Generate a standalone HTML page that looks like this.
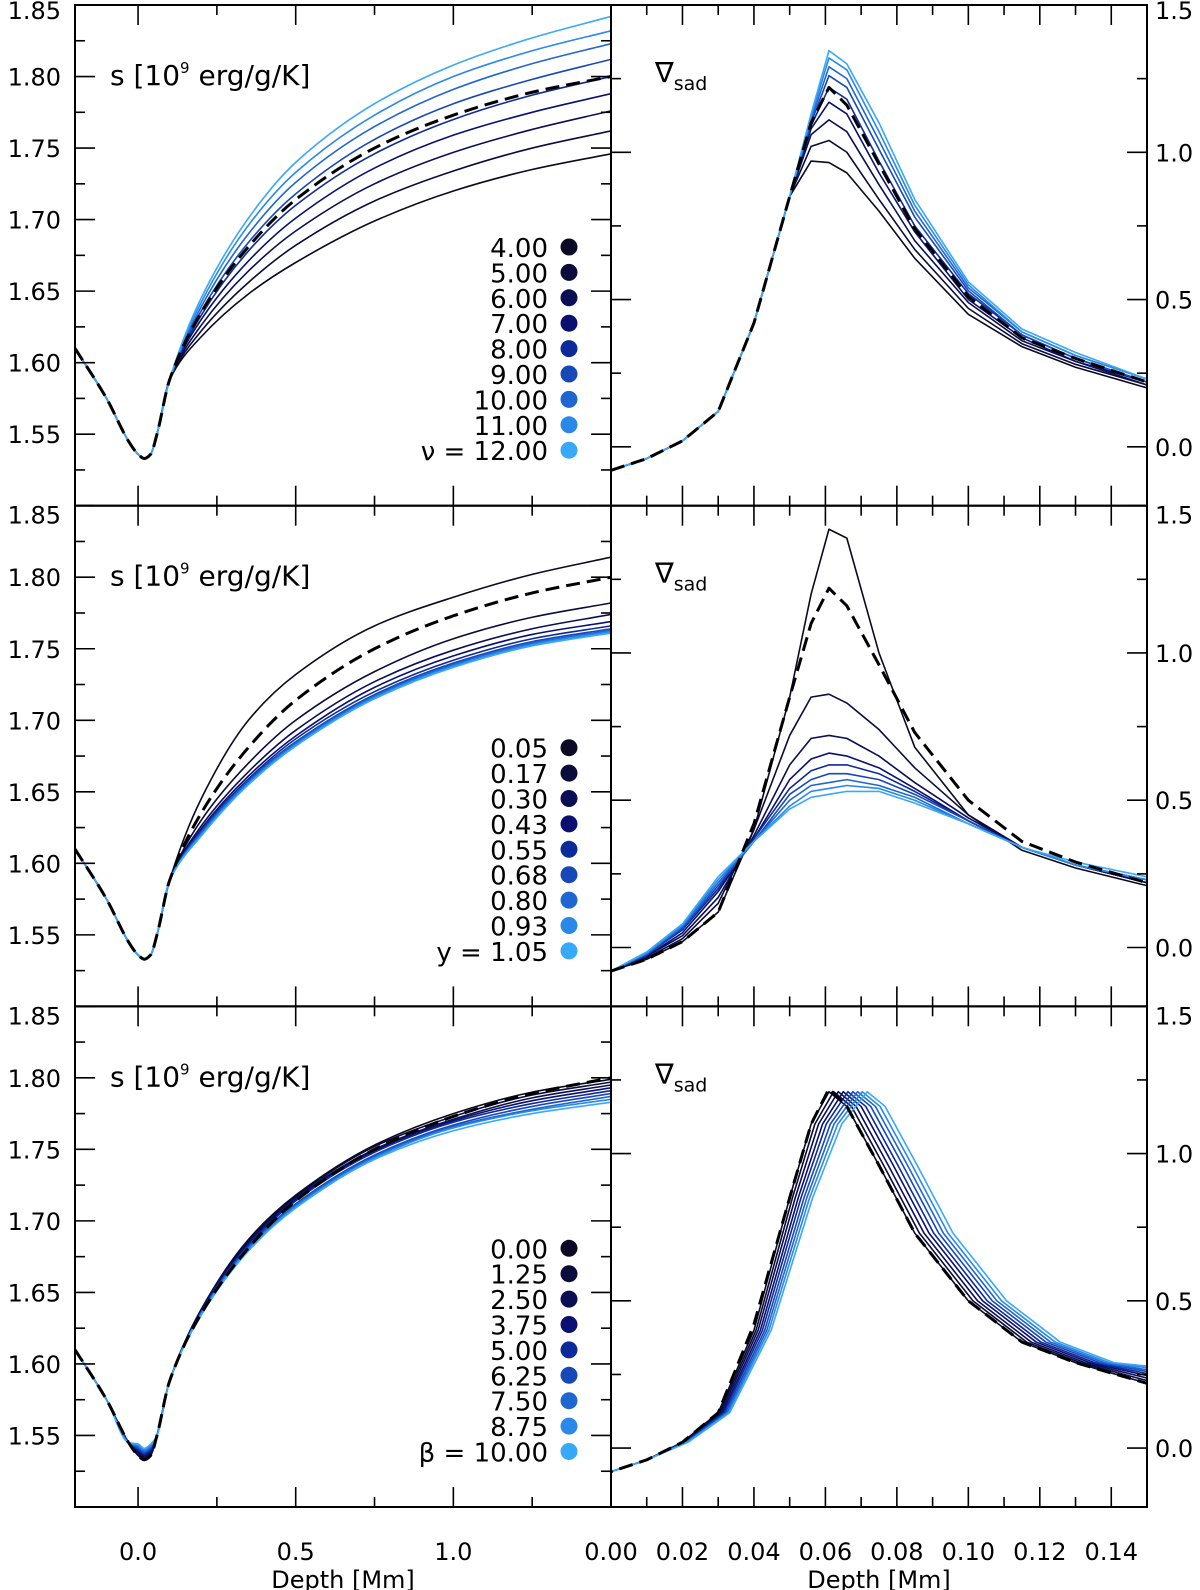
<!DOCTYPE html>
<html><head><meta charset="utf-8">
<style>
body{margin:0;background:#fff;}
svg{display:block;font-family:"DejaVu Sans","Liberation Sans",sans-serif;}
</style></head>
<body>
<svg id="fig" width="1200" height="1590" viewBox="0 0 1200 1590" xmlns="http://www.w3.org/2000/svg"></svg>
<script>
// ---------- data ----------
const colors = ['#0a0a24','#0b0b3c','#0a0f55','#0a1070','#0d2a9a','#1648b8','#1e66d0','#2a88e8','#38a8f8'];
const sX = [-0.2,-0.1,-0.03,0.0,0.02,0.04,0.06,0.1,0.2,0.35,0.5,0.75,1.0,1.25,1.5];
const sPrefix = [1.61,1.575,1.545,1.536,1.533,1.536,1.55,1.588];
const nuLabels = ['4.00','5.00','6.00','7.00','8.00','9.00','10.00','11.00','12.00'];
const sNu4  = [1.618,1.648,1.670,1.699,1.720,1.735,1.746];
const sNu5  = [1.622,1.656,1.682,1.713,1.734,1.750,1.762];
const sNu6  = [1.626,1.664,1.692,1.725,1.747,1.763,1.776];
const sNu7  = [1.630,1.671,1.701,1.736,1.759,1.775,1.788];
const sNu8  = [1.633,1.678,1.710,1.746,1.770,1.787,1.800];
const sNu9  = [1.636,1.684,1.718,1.756,1.781,1.798,1.812];
const sNu10 = [1.639,1.690,1.726,1.765,1.791,1.809,1.823];
const sNu11 = [1.642,1.696,1.733,1.773,1.800,1.818,1.832];
const sNu12 = [1.645,1.701,1.740,1.781,1.808,1.827,1.842];
const sRef  = [1.635,1.681,1.714,1.750,1.773,1.789,1.800];
const yLabels = ['0.05','0.17','0.30','0.43','0.55','0.68','0.80','0.93','1.05'];
const sY05 = [1.645,1.700,1.732,1.766,1.786,1.802,1.814];
const sY17 = [1.630,1.670,1.700,1.734,1.757,1.772,1.782];
const sY30 = [1.626,1.664,1.693,1.727,1.749,1.764,1.774];
const sY43 = [1.624,1.661,1.689,1.723,1.745,1.760,1.769];
const sY55 = [1.623,1.659,1.687,1.720,1.742,1.757,1.766];
const sY68 = [1.622,1.658,1.685,1.718,1.740,1.755,1.764];
const sY80 = [1.621,1.657,1.684,1.717,1.739,1.754,1.763];
const sY93 = [1.620,1.656,1.683,1.716,1.738,1.753,1.762];
const sY105= [1.619,1.655,1.682,1.715,1.737,1.752,1.761];
const betaLabels = ['0.00','1.25','2.50','3.75','5.00','6.25','7.50','8.75','10.00'];
const sB0  = [1.638,1.687,1.718,1.753,1.775,1.790,1.799];
const sB1  = [1.638,1.686,1.717,1.752,1.773,1.788,1.797];
const sB2  = [1.637,1.685,1.716,1.750,1.771,1.786,1.795];
const sB3  = [1.637,1.684,1.715,1.749,1.770,1.784,1.793];
const sB4  = [1.636,1.683,1.714,1.748,1.769,1.782,1.791];
const sB5  = [1.636,1.682,1.712,1.746,1.767,1.780,1.789];
const sB6  = [1.635,1.681,1.711,1.745,1.766,1.778,1.787];
const sB7  = [1.635,1.680,1.710,1.744,1.765,1.777,1.785];
const sB8  = [1.634,1.679,1.709,1.743,1.763,1.775,1.783];
const betaDip = [1.533,1.534,1.535,1.536,1.537,1.538,1.539,1.540,1.541];

const gX = [0,0.01,0.02,0.03,0.04,0.05,0.056,0.061,0.066,0.075,0.085,0.1,0.115,0.13,0.15];
const gPrefix = [-0.08,-0.04,0.02,0.12,0.42,0.85];
const gNu4  = [0.97,0.965,0.93,0.80,0.64,0.45,0.34,0.27,0.20];
const gNu5  = [1.02,1.04,1.00,0.84,0.67,0.47,0.35,0.28,0.21];
const gNu6  = [1.06,1.11,1.07,0.89,0.70,0.49,0.36,0.29,0.21];
const gNu7  = [1.08,1.17,1.13,0.93,0.73,0.50,0.37,0.29,0.22];
const gNu8  = [1.09,1.22,1.18,0.97,0.75,0.52,0.38,0.30,0.22];
const gNu9  = [1.10,1.26,1.22,1.01,0.78,0.53,0.38,0.30,0.22];
const gNu10 = [1.11,1.29,1.25,1.04,0.80,0.54,0.39,0.31,0.23];
const gNu11 = [1.12,1.32,1.28,1.07,0.82,0.55,0.39,0.31,0.23];
const gNu12 = [1.13,1.345,1.30,1.10,0.84,0.56,0.40,0.32,0.23];
const gRef  = [1.10,1.22,1.16,0.96,0.74,0.51,0.37,0.30,0.22];
const gY05 = [-0.08,-0.04,0.02,0.12,0.40,0.85,1.20,1.42,1.39,1.00,0.68,0.45,0.33,0.27,0.21];
const gY17 = [-0.08,-0.035,0.03,0.15,0.40,0.72,0.85,0.86,0.83,0.74,0.61,0.45,0.34,0.28,0.22];
const gY30 = [-0.08,-0.03,0.04,0.17,0.38,0.62,0.71,0.72,0.71,0.65,0.56,0.44,0.34,0.28,0.22];
const gY43 = [-0.08,-0.03,0.05,0.19,0.37,0.57,0.64,0.66,0.65,0.61,0.54,0.43,0.34,0.28,0.22];
const gY55 = [-0.08,-0.025,0.06,0.20,0.37,0.54,0.60,0.62,0.62,0.59,0.53,0.43,0.34,0.28,0.23];
const gY68 = [-0.08,-0.025,0.065,0.21,0.36,0.52,0.57,0.59,0.59,0.57,0.52,0.43,0.34,0.28,0.23];
const gY80 = [-0.08,-0.02,0.07,0.22,0.36,0.50,0.55,0.56,0.57,0.55,0.51,0.42,0.34,0.28,0.23];
const gY93 = [-0.08,-0.02,0.075,0.23,0.36,0.48,0.53,0.54,0.55,0.54,0.50,0.42,0.34,0.28,0.23];
const gY105= [-0.08,-0.015,0.08,0.24,0.36,0.47,0.51,0.52,0.53,0.53,0.49,0.42,0.34,0.29,0.24];
const gYRef= [-0.08,-0.04,0.02,0.12,0.42,0.85,1.10,1.22,1.16,0.96,0.73,0.50,0.36,0.29,0.22];
const gBetaShape = [-0.08,-0.04,0.02,0.12,0.40,0.85,1.10,1.21,1.16,0.96,0.73,0.50,0.36,0.29,0.22];
const gBetaShift = [0,0.0013,0.0026,0.004,0.0053,0.0067,0.008,0.0093,0.0107];
const gBetaTail  = [0.22,0.225,0.23,0.235,0.24,0.245,0.25,0.258,0.265];

const sTicksMajor = [1.55,1.60,1.65,1.70,1.75,1.80,1.85];
const gTicksMajor = [0.0,0.5,1.0,1.5];
const sXTicks = ['0.0','0.5','1.0'];
const gXTicks = ['0.00','0.02','0.04','0.06','0.08','0.10','0.12','0.14'];

// ---------- layout ----------
const NS='http://www.w3.org/2000/svg';
const svg=document.getElementById('fig');
const L0=75,L1=611,R1=1147;
const rowsTop=[5,505.7,1006.3], rowH=500.7;
function mk(tag,attrs,parent){const e=document.createElementNS(NS,tag);for(const k in attrs)e.setAttribute(k,attrs[k]);(parent||svg).appendChild(e);return e;}
function sxL(v){return L0+(v+0.2)/1.7*(L1-L0);}
function sxR(v){return L1+v/0.15*(R1-L1);}
function syL(r,v){return rowsTop[r]+(1.85-v)/0.35*rowH;}
function syR(r,v){return rowsTop[r]+(1.5-v)/1.7*rowH;}

function monoPath(xs,ys){
  const n=xs.length;const d=[],m=[];
  for(let i=0;i<n-1;i++)d.push((ys[i+1]-ys[i])/(xs[i+1]-xs[i]));
  m[0]=d[0];m[n-1]=d[n-2];
  for(let i=1;i<n-1;i++){ if(d[i-1]*d[i]<=0)m[i]=0; else m[i]=2/(1/d[i-1]+1/d[i]); }
  let p='M'+xs[0].toFixed(2)+','+ys[0].toFixed(2);
  for(let i=0;i<n-1;i++){const h=xs[i+1]-xs[i];
    p+=' C'+(xs[i]+h/3).toFixed(2)+','+(ys[i]+m[i]*h/3).toFixed(2)+' '+(xs[i+1]-h/3).toFixed(2)+','+(ys[i+1]-m[i+1]*h/3).toFixed(2)+' '+xs[i+1].toFixed(2)+','+ys[i+1].toFixed(2);}
  return p;
}
function linPath(xs,ys){return xs.map((x,i)=>(i?'L':'M')+x.toFixed(2)+','+ys[i].toFixed(2)).join(' ');}

const defs=mk('defs',{});
for(let r=0;r<3;r++){
  const c1=mk('clipPath',{id:'cl'+r},defs);mk('rect',{x:L0,y:rowsTop[r],width:L1-L0,height:rowH},c1);
  const c2=mk('clipPath',{id:'cr'+r},defs);mk('rect',{x:L1,y:rowsTop[r],width:R1-L1,height:rowH},c2);
}

function drawS(r,series,name,col,dashed,grp){
  const xs=sX.map(sxL), ys=series.map(v=>syL(r,v));
  const p=mk('path',{d:monoPath(xs,ys),fill:'none',stroke:col,'stroke-width':dashed?3:1.6,'stroke-dasharray':dashed?'14 7':'none'},grp);
  
  
}
function drawG(r,xv,series,name,col,dashed,grp){
  const xs=xv.map(sxR), ys=series.map(v=>syR(r,v));
  const p=mk('path',{d:linPath(xs,ys),fill:'none',stroke:col,'stroke-width':dashed?3:1.6,'stroke-dasharray':dashed?'14 7':'none','stroke-linejoin':'round'},grp);
  
  
}

const sNu=[sNu4,sNu5,sNu6,sNu7,sNu8,sNu9,sNu10,sNu11,sNu12];
const sY=[sY05,sY17,sY30,sY43,sY55,sY68,sY80,sY93,sY105];
const sB=[sB0,sB1,sB2,sB3,sB4,sB5,sB6,sB7,sB8];
const gNu=[gNu4,gNu5,gNu6,gNu7,gNu8,gNu9,gNu10,gNu11,gNu12];
const gY=[gY05,gY17,gY30,gY43,gY55,gY68,gY80,gY93,gY105];

// row 0
let g=mk('g',{'clip-path':'url(#cl0)'});
sNu.forEach((s,i)=>drawS(0,sPrefix.concat(s),'entropy-nu-'+nuLabels[i],colors[i],false,g));
drawS(0,sPrefix.concat(sRef),'entropy-reference',"#000",true,g);
g=mk('g',{'clip-path':'url(#cr0)'});
gNu.forEach((s,i)=>drawG(0,gX,gPrefix.concat(s),'gradient-nu-'+nuLabels[i],colors[i],false,g));
drawG(0,gX,gPrefix.concat(gRef),'gradient-reference',"#000",true,g);
// row 1
g=mk('g',{'clip-path':'url(#cl1)'});
sY.forEach((s,i)=>drawS(1,sPrefix.concat(s),'entropy-y-'+yLabels[i],colors[i],false,g));
drawS(1,sPrefix.concat(sRef),'entropy-reference',"#000",true,g);
g=mk('g',{'clip-path':'url(#cr1)'});
gY.forEach((s,i)=>drawG(1,gX,s,'gradient-y-'+yLabels[i],colors[i],false,g));
drawG(1,gX,gYRef,'gradient-reference',"#000",true,g);
// row 2
g=mk('g',{'clip-path':'url(#cl2)'});
sB.forEach((s,i)=>{const pre=sPrefix.slice();pre[4]=betaDip[i];pre[3]=betaDip[i]+0.003;pre[5]=betaDip[i]+0.003;drawS(2,pre.concat(s),'entropy-beta-'+betaLabels[i],colors[i],false,g);});
drawS(2,sPrefix.concat(sRef),'entropy-reference',"#000",true,g);
g=mk('g',{'clip-path':'url(#cr2)'});
const shiftWeight=[0,0,0.15,0.3,0.45,0.6,0.8,1,1,1,1,1,1,1,1];
gBetaShift.forEach((sh,i)=>{
  const xv=[-0.02].concat(gX.map((x,k)=>x+sh*shiftWeight[k]));
  const yv=[-0.16].concat(gBetaShape.map((v,k)=>k==gBetaShape.length-1?gBetaTail[i]:v));
  drawG(2,xv,yv,'gradient-beta-'+betaLabels[i],colors[i],false,g);
});
drawG(2,[-0.02].concat(gX),[-0.16].concat(gYRef),'gradient-reference',"#000",true,g);

// ---------- axes ----------
function line(x1,y1,x2,y2,name,w){const l=mk('line',{x1,y1,x2,y2,stroke:'#000','stroke-width':w||1.6});return l;}
function text(x,y,str,anchor,size,name){const t=mk('text',{x,y,'text-anchor':anchor,'font-size':size,fill:'#000'});t.textContent=str;return t;}

for(let r=0;r<3;r++){
  const T=rowsTop[r],B=T+rowH;
  mk('rect',{x:L0,y:T,width:R1-L0,height:rowH,fill:'none',stroke:'#000','stroke-width':2});
  line(L1,T,L1,B,'panel-divider',2);
  for(let k=0;k<=14;k++){const v=1.50+k*0.025;const y=syL(r,v);const maj=k%2==0;const len=maj?20:10;
    line(L0,y,L0+len,y,'s-tick');line(L1,y,L1-len,y,'s-tick');}
  sTicksMajor.forEach(v=>{let y=syL(r,v)+9;if(v==1.85)y=syL(r,v)+(r==0?14:18);text(61,y,v.toFixed(2),'end',24,'s-tick-label');});
  for(let k=0;k<=6;k++){const v=k*0.25;const y=syR(r,v);const maj=k%2==0;const len=maj?20:10;
    line(L1,y,L1+len,y,'grad-tick');line(R1,y,R1-len,y,'grad-tick');}
  gTicksMajor.forEach(v=>{let y=syR(r,v)+9;if(v==1.5)y=syR(r,v)+(r==0?14:18);text(1155,y,v.toFixed(1),'start',24,'grad-tick-label');});
  for(let k=0;k<=5;k++){const v=k*0.25;const x=sxL(v);const len=k%2==0?20:10;line(x,B,x,B-len,'depth-tick');line(x,T,x,T+len,'depth-tick');}
  for(let k=1;k<15;k++){const v=k*0.01;const x=sxR(v);const len=k%2==0?20:10;line(x,B,x,B-len,'depth-tick');line(x,T,x,T+len,'depth-tick');}
  const t=mk('text',{x:110,y:T+80,'font-size':28,fill:'#000'});
  t.innerHTML='s [10<tspan dy="-12" font-size="15">9</tspan><tspan dy="12"> erg/g/K]</tspan>';
  const n=mk('text',{x:655,y:T+77,'font-size':28,fill:'#000'});
  n.innerHTML='∇<tspan dy="8" font-size="19">sad</tspan>';
}
sXTicks.forEach(s=>text(sxL(parseFloat(s)),1560,s,'middle',24,'depth-tick-label'));
gXTicks.forEach(s=>text(sxR(parseFloat(s)),1560,s,'middle',24,'depth-tick-label'));
text(sxL(0.65),1588,'Depth [Mm]','middle',24,'x-axis-title-left');
text(sxR(0.075),1588,'Depth [Mm]','middle',24,'x-axis-title-right');

// ---------- legends ----------
function legend(r,labels,sym,name){
  const lg=mk('g',{});
  labels.forEach((lab,i)=>{
    const y=rowsTop[r]+242+i*25.4;
    const t=mk('text',{x:548,y:y+10,'text-anchor':'end','font-size':26,fill:'#000','xml:space':'preserve'},lg);
    t.textContent=(i==labels.length-1?sym+'  =  ':'')+lab;
    
    
    const c=mk('circle',{cx:569,cy:y,r:8.5,fill:colors[i]},lg);
    
    
  });
}
legend(0,nuLabels,'ν','legend-nu');
legend(1,yLabels,'y','legend-y');
legend(2,betaLabels,'β','legend-beta');
</script>
</body></html>
